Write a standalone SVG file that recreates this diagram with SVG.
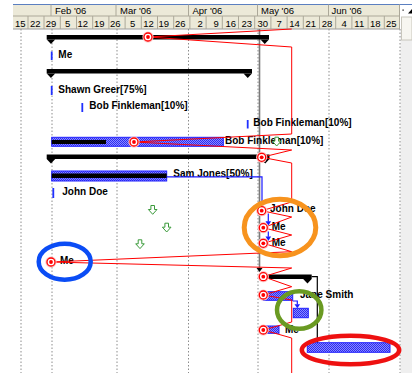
<svg xmlns="http://www.w3.org/2000/svg" width="412" height="373" viewBox="0 0 412 373">
<style>
.hdr{font:9.5px "Liberation Sans",Arial,sans-serif;fill:#000}
.lbl{font:bold 10px "Liberation Sans",Arial,sans-serif;fill:#000}
.grid{stroke:#8c8c8c;stroke-width:1;stroke-dasharray:1.5 2}
.hline{stroke:#aca899;stroke-width:1}
.tick{fill:#2030ff}
.bar{fill:url(#hatch);stroke:#2020ff;stroke-width:1}
.sum{fill:#000}
.prog{fill:none;stroke:#ff0000;stroke-width:1;stroke-linejoin:miter}
.blink{fill:none;stroke:#1a1aff;stroke-width:1.2}
.klink{fill:none;stroke:#000;stroke-width:1.2}
.ring{fill:none}
</style>
<defs>
<pattern id="hatch" width="2" height="2" patternUnits="userSpaceOnUse">
<rect width="2" height="2" fill="#8a8aff"/>
<rect width="1" height="1" fill="#2c2cf0"/>
<rect x="1" y="1" width="1" height="1" fill="#2c2cf0"/>
</pattern>
<g id="ms">
<circle r="5.6" fill="#ffc0c0"/>
<circle r="4" fill="#fff" stroke="#f00" stroke-width="1.3"/>
<circle r="1.9" fill="#f00"/>
</g>
<g id="garrow">
<path d="M-1.8,-4.5 H1.8 V-0.5 H4.3 L0,4.3 L-4.3,-0.5 H-1.8 Z" fill="#fff" stroke="#3a9a3a" stroke-width="1"/>
</g>
<marker id="bhead" markerWidth="6" markerHeight="5" refX="3" refY="0.5" orient="auto-start-reverse" markerUnits="userSpaceOnUse" viewBox="0 0 6 5">
<path d="M0,0 L6,0 L3,4.5 Z" fill="#1a1aff" transform="rotate(-90 3 2.5) translate(0 0)"/>
</marker>
</defs>

<!-- background -->
<rect width="412" height="373" fill="#fff"/>
<rect x="400.5" y="29" width="11.5" height="344" fill="#efefef"/>

<!-- header -->
<g id="timescale">
<rect x="13" y="4.5" width="387" height="24.5" fill="#ece9d8"/>
<line x1="13" y1="4.5" x2="412" y2="4.5" stroke="#5b7fc0" stroke-width="1"/>
<line class="hline" x1="13" y1="16" x2="400" y2="16"/>
<line x1="13" y1="29" x2="400" y2="29" stroke="#9a9a9a"/>
<g class="hline">
<line x1="51" y1="4.5" x2="51" y2="16"/>
<line x1="116" y1="4.5" x2="116" y2="16"/>
<line x1="188.5" y1="4.5" x2="188.5" y2="16"/>
<line x1="257.5" y1="4.5" x2="257.5" y2="16"/>
<line x1="328.5" y1="4.5" x2="328.5" y2="16"/>
<line x1="399.5" y1="4.5" x2="399.5" y2="29"/>
<line x1="28" y1="16" x2="28" y2="29"/>
<line x1="44" y1="16" x2="44" y2="29"/>
<line x1="60.3" y1="16" x2="60.3" y2="29"/>
<line x1="76.5" y1="16" x2="76.5" y2="29"/>
<line x1="92.7" y1="16" x2="92.7" y2="29"/>
<line x1="108.9" y1="16" x2="108.9" y2="29"/>
<line x1="125.1" y1="16" x2="125.1" y2="29"/>
<line x1="141.3" y1="16" x2="141.3" y2="29"/>
<line x1="157.5" y1="16" x2="157.5" y2="29"/>
<line x1="173.7" y1="16" x2="173.7" y2="29"/>
<line x1="189.9" y1="16" x2="189.9" y2="29"/>
<line x1="206.1" y1="16" x2="206.1" y2="29"/>
<line x1="222.3" y1="16" x2="222.3" y2="29"/>
<line x1="238.5" y1="16" x2="238.5" y2="29"/>
<line x1="254.7" y1="16" x2="254.7" y2="29"/>
<line x1="270.9" y1="16" x2="270.9" y2="29"/>
<line x1="287.1" y1="16" x2="287.1" y2="29"/>
<line x1="303.3" y1="16" x2="303.3" y2="29"/>
<line x1="319.5" y1="16" x2="319.5" y2="29"/>
<line x1="335.7" y1="16" x2="335.7" y2="29"/>
<line x1="351.9" y1="16" x2="351.9" y2="29"/>
<line x1="368.1" y1="16" x2="368.1" y2="29"/>
<line x1="384.3" y1="16" x2="384.3" y2="29"/>
</g>
<text class="hdr" x="55" y="14">Feb '06</text>
<text class="hdr" x="120" y="14">Mar '06</text>
<text class="hdr" x="192.5" y="14">Apr '06</text>
<text class="hdr" x="261" y="14">May '06</text>
<text class="hdr" x="331.5" y="14">Jun '06</text>
<text class="hdr" x="15" y="26.5">15</text>
<text class="hdr" x="30" y="26.5">22</text>
<text class="hdr" x="45.7" y="26.5">29</text>
<text class="hdr" x="65" y="26.5">5</text>
<text class="hdr" x="77.5" y="26.5">12</text>
<text class="hdr" x="94" y="26.5">19</text>
<text class="hdr" x="110" y="26.5">26</text>
<text class="hdr" x="130" y="26.5">5</text>
<text class="hdr" x="143.3" y="26.5">12</text>
<text class="hdr" x="158.5" y="26.5">19</text>
<text class="hdr" x="175" y="26.5">26</text>
<text class="hdr" x="197.5" y="26.5">2</text>
<text class="hdr" x="213.5" y="26.5">9</text>
<text class="hdr" x="225.5" y="26.5">16</text>
<text class="hdr" x="241.5" y="26.5">23</text>
<text class="hdr" x="257.5" y="26.5">30</text>
<text class="hdr" x="276.5" y="26.5">7</text>
<text class="hdr" x="289.3" y="26.5">14</text>
<text class="hdr" x="305.5" y="26.5">21</text>
<text class="hdr" x="321.7" y="26.5">28</text>
<text class="hdr" x="341.5" y="26.5">4</text>
<text class="hdr" x="354.3" y="26.5">11</text>
<text class="hdr" x="370" y="26.5">18</text>
<text class="hdr" x="386" y="26.5">25</text>
<rect x="402.5" y="9.5" width="1.2" height="1.2" fill="#000"/>
<path d="M408,13.5 L412,13.5 L412,9 Z" fill="#000"/>
<rect x="401.5" y="17" width="10.5" height="23" fill="#f7f6f0" stroke="#c8c6bc" stroke-width="1"/>
</g>

<!-- gridlines -->
<g id="gridlines">
<line class="grid" x1="21" y1="29" x2="21" y2="373"/>
<line class="grid" x1="52" y1="29" x2="52" y2="373"/>
<line class="grid" x1="117" y1="29" x2="117" y2="373"/>
<line class="grid" x1="188.5" y1="29" x2="188.5" y2="373"/>
<line class="grid" x1="258" y1="29" x2="258" y2="373"/>
<line class="grid" x1="329" y1="29" x2="329" y2="373"/>
<line class="grid" x1="400" y1="29" x2="400" y2="373"/>
<line x1="259.5" y1="29" x2="259.5" y2="268" stroke="#7a7a7a" stroke-width="1.6"/>
<path d="M256.5,268 L262.5,268 L259.5,272 Z" fill="#000"/>
</g>

<!-- tasks -->
<g id="task-summary1">
<rect class="sum" x="46.7" y="35" width="222.3" height="4.5"/>
<path class="sum" d="M46.7,39.5 H55.2 L50.95,44 Z M260.5,39.5 H269 L264.75,44 Z"/>
</g>
<g id="task-me1">
<rect class="tick" x="50.8" y="51.5" width="1.8" height="8.5"/>
<text class="lbl" x="58.3" y="57.5">Me</text>
</g>
<g id="task-summary2">
<rect class="sum" x="46.7" y="69" width="205.3" height="4.5"/>
<path class="sum" d="M46.7,73.5 H55.2 L50.95,78 Z M243.5,73.5 H252 L247.75,78 Z"/>
</g>
<g id="task-shawn">
<rect class="tick" x="50.8" y="86" width="1.8" height="9"/>
<text class="lbl" x="58.3" y="92.5">Shawn Greer[75%]</text>
</g>
<g id="task-bob1">
<rect class="tick" x="81.4" y="103" width="1.8" height="9"/>
<text class="lbl" x="89.3" y="109.3">Bob Finkleman[10%]</text>
</g>
<g id="task-bob2">
<rect class="tick" x="246.8" y="120" width="1.8" height="8.5"/>
<text class="lbl" x="253.3" y="126">Bob Finkleman[10%]</text>
</g>
<g id="task-bob3">
<rect class="bar" x="51.7" y="137.3" width="171.6" height="9"/>
<rect class="sum" x="51.7" y="140" width="54.3" height="4"/>
<text class="lbl" x="225" y="143.5">Bob Finkleman[10%]</text>
<use href="#garrow" x="276.7" y="141.7"/>
</g>
<g id="task-summary3">
<rect class="sum" x="46.7" y="154.5" width="222.8" height="4.5"/>
<path class="sum" d="M46.7,159 H55.2 L50.95,163.5 Z M261,159 H269.5 L265.25,163.5 Z"/>
</g>
<g id="task-sam">
<rect class="bar" x="51.7" y="171" width="115" height="10"/>
<rect class="sum" x="51.7" y="173.5" width="115" height="4.5"/>
<text class="lbl" x="173.3" y="177.3">Sam Jones[50%]</text>
</g>
<g id="task-john1">
<rect class="tick" x="52.4" y="188" width="1.8" height="10"/>
<text class="lbl" x="62.3" y="195">John Doe</text>
</g>
<g id="indicators">
<use href="#garrow" x="152.7" y="210"/>
<use href="#garrow" x="166.7" y="227.7"/>
<use href="#garrow" x="140" y="244.3"/>
</g>
<g id="task-john2">
<text class="lbl" x="270" y="212">John Doe</text>
</g>
<g id="task-me2">
<text class="lbl" x="271.7" y="229.7">Me</text>
</g>
<g id="task-me3">
<text class="lbl" x="271.7" y="246">Me</text>
</g>
<g id="task-me4">
<text class="lbl" x="60" y="263.5">Me</text>
</g>
<g id="task-summary4">
<rect class="sum" x="261.5" y="274.5" width="50.2" height="4.5"/>
<path class="sum" d="M303.2,279 H311.7 L307.45,283.5 Z"/>
</g>
<g id="task-jane">
<rect class="bar" x="263.3" y="291.7" width="29.4" height="8.6"/>
<text class="lbl" x="300" y="297.5">Jane Smith</text>
</g>
<g id="task-small">
<rect class="bar" x="293.3" y="308.3" width="15" height="9.4"/>
</g>
<g id="task-me5">
<rect class="bar" x="263.3" y="326" width="15.7" height="7.3"/>
<text class="lbl" x="285" y="333">Me</text>
</g>
<g id="task-final">
<rect class="bar" x="307.3" y="342.7" width="82.7" height="9.6"/>
</g>

<!-- connectors -->
<g id="connectors">
<path class="blink" d="M166.7,176.8 H262 V202.5"/>
<path d="M259.5,202 L264.5,202 L262,206.5 Z" fill="#1a1aff"/>
<path class="blink" d="M268.3,213.5 V221.5"/>
<path d="M265.5,221.3 L271.1,221.3 L268.3,225.7 Z" fill="#1a1aff"/>
<path class="blink" d="M268.3,231.5 V236.7"/>
<path d="M265.5,236.5 L271.1,236.5 L268.3,240.9 Z" fill="#1a1aff"/>
<path class="blink" d="M292.7,301 H297.3 V304.5"/>
<path d="M294.5,304.3 L300.1,304.3 L297.3,308.3 Z" fill="#1a1aff"/>
<path class="klink" d="M311.7,276.7 H317.3 V339"/>
<path d="M314.8,338.7 L319.8,338.7 L317.3,342.7 Z" fill="#000"/>
<polyline class="prog" points="291.7,29 148,37 291.7,47 291.7,134 134,142 291.7,150 261.7,157.3 291.7,163 291.7,202 261.7,210.7 291.7,217 263.3,227.7 291.7,235 263.3,243.3 291.7,251.7 51,262 291.7,268 263.3,276.7 291.7,286.7 263.3,295 291.7,300 291.7,322 263.3,330 291.7,338 291.7,373"/>
</g>

<!-- progress points -->
<g id="progress-points">
<use href="#ms" x="148" y="37"/>
<use href="#ms" x="134" y="142"/>
<use href="#ms" x="261.7" y="157.3"/>
<use href="#ms" x="261.7" y="210.7"/>
<use href="#ms" x="263.3" y="227.7"/>
<use href="#ms" x="263.3" y="243.3"/>
<use href="#ms" x="51" y="262"/>
<use href="#ms" x="263.3" y="276.7"/>
<use href="#ms" x="263.3" y="295"/>
<use href="#ms" x="263.3" y="330"/>
</g>

<!-- highlight rings -->
<g id="highlights">
<ellipse class="ring" cx="280" cy="227.5" rx="35.8" ry="28.3" stroke="#f7931e" stroke-width="5"/>
<ellipse class="ring" cx="64.7" cy="261.7" rx="26" ry="18" stroke="#0a4cf5" stroke-width="4.5"/>
<ellipse class="ring" cx="299.2" cy="310" rx="22.2" ry="18.7" stroke="#6a9a22" stroke-width="4.5"/>
<ellipse class="ring" cx="350.5" cy="350" rx="48.7" ry="14.3" stroke="#ee1111" stroke-width="4.5"/>
</g>
</svg>
